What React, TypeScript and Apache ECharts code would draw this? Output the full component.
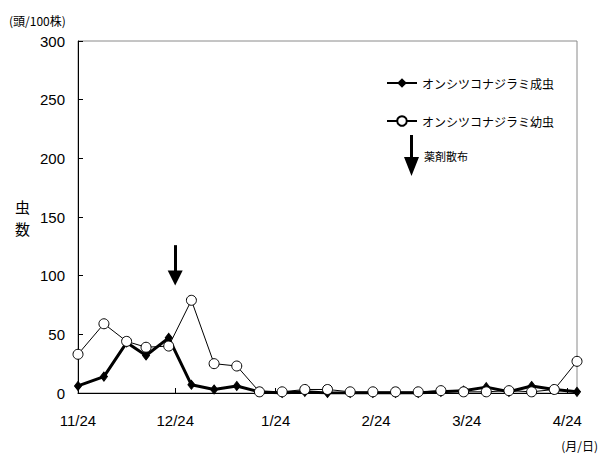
import React, { useEffect, useRef } from "react";
import * as echarts from "echarts";

// Days since 11/24 for each survey
const sampleDays = [0, 8, 15, 21, 28, 35, 42, 49, 56, 63, 70, 77, 84, 91, 98, 105, 112, 119, 126, 133, 140, 147, 154];
// オンシツコナジラミ成虫 (heads / 100 plants)
const adultValues = [6, 14, 43, 32, 47, 7, 3, 6, 1, 0, 1, 0, 0, 0, 0, 0, 1, 2, 5, 1, 6, 3, 1];
// オンシツコナジラミ幼虫 (heads / 100 plants)
const nymphValues = [33, 59, 44, 39, 40, 79, 25, 23, 1, 1, 3, 3, 1, 1, 1, 1, 2, 1, 1, 2, 1, 3, 27];

const xTickDays = [0, 30, 61, 92, 120, 151];
const xTickLabels = ["11/24", "12/24", "1/24", "2/24", "3/24", "4/24"];
const yTicks = [0, 50, 100, 150, 200, 250, 300];

// Spray event (day, arrow top value, arrow end value)
const sprayDay = 30;
const sprayArrowFrom = 126;
const sprayArrowTo = 98;

const adultName = "オンシツコナジラミ成虫";
const nymphName = "オンシツコナジラミ幼虫";
const sprayName = "薬剤散布";

const FONT_NUM = "'Liberation Sans', Arial, sans-serif";
const FONT_JP = "'Noto Sans CJK JP', sans-serif";

export default function App() {
  const ref = useRef<HTMLDivElement>(null);
  useEffect(() => {
    if (!ref.current) return;
    const chart = echarts.init(ref.current, undefined, { renderer: "svg" });
    const labelFor = (v: number) => {
      const i = xTickDays.indexOf(v);
      return i >= 0 ? xTickLabels[i] : "";
    };
    chart.setOption({
      animation: false,
      backgroundColor: "#fff",
      grid: {
        left: 78,
        right: 26,
        top: 41,
        bottom: 66,
        show: true,
        borderColor: "#8a8a8a",
        borderWidth: 1,
      },
      title: [
        {
          text: "(頭/100株)",
          left: 4,
          top: 9,
          textStyle: { fontSize: 12, fontWeight: "normal", color: "#000", fontFamily: FONT_JP },
        },
        {
          text: "(月/日)",
          right: 0,
          top: 434,
          textStyle: { fontSize: 12, fontWeight: "normal", color: "#000", fontFamily: FONT_JP },
        },
      ],
      legend: [
        {
          orient: "vertical",
          left: 381,
          top: 72,
          itemWidth: 30,
          itemHeight: 12,
          itemGap: 26,
          data: [adultName, nymphName],
          selectedMode: false,
          textStyle: { fontSize: 12, color: "#000", fontFamily: FONT_JP },
        },
        {
          orient: "vertical",
          left: 399,
          top: 130,
          itemWidth: 15,
          itemHeight: 41,
          data: [
            {
              name: sprayName,
              icon: "path://M6,0 L9,0 L9,22 L15,22 L7.5,41 L0,22 L6,22 Z",
            },
          ],
          selectedMode: false,
          textStyle: { fontSize: 11, color: "#000", fontFamily: FONT_JP },
        },
      ],
      xAxis: {
        type: "value",
        min: 0,
        max: 154,
        splitLine: { show: false },
        axisLine: { show: true, onZero: false, lineStyle: { color: "#000", width: 1 } },
        axisTick: { show: true, inside: true, length: 5, customValues: xTickDays, lineStyle: { color: "#000" } },
        axisLabel: {
          customValues: xTickDays,
          formatter: (v: number) => labelFor(v),
          fontSize: 15,
          color: "#000",
          fontFamily: FONT_NUM,
          margin: 20,
        },
      },
      yAxis: {
        type: "value",
        min: 0,
        max: 300,
        interval: 50,
        name: "虫\n数",
        nameLocation: "middle",
        nameRotate: 0,
        nameGap: 48,
        nameTextStyle: { fontSize: 15, lineHeight: 22, color: "#000", fontFamily: FONT_JP },
        splitLine: { show: false },
        axisLine: { show: true, lineStyle: { color: "#000", width: 1 } },
        axisTick: { show: true, inside: true, length: 5, lineStyle: { color: "#000" } },
        axisLabel: {
          fontSize: 15,
          color: "#000",
          fontFamily: FONT_NUM,
          margin: 13,
          formatter: (v: number) => (yTicks.includes(v) ? String(v) : ""),
        },
      },
      series: [
        {
          name: adultName,
          type: "line",
          data: sampleDays.map((d, i) => [d, adultValues[i]]),
          symbol: "diamond",
          symbolSize: [7, 9],
          showAllSymbol: true,
          lineStyle: { color: "#000", width: 3 },
          itemStyle: { color: "#000", borderColor: "#000" },
          z: 3,
        },
        {
          name: nymphName,
          type: "line",
          data: sampleDays.map((d, i) => [d, nymphValues[i]]),
          symbol: "circle",
          symbolSize: 10,
          showAllSymbol: true,
          lineStyle: { color: "#000", width: 1 },
          itemStyle: { color: "#fff", borderColor: "#000", borderWidth: 1 },
          z: 4,
        },
        {
          name: sprayName,
          type: "line",
          data: [],
          itemStyle: { color: "#000" },
          lineStyle: { color: "#000" },
          markLine: {
            silent: true,
            symbol: ["none", "triangle"],
            symbolSize: 15,
            label: { show: false },
            itemStyle: { color: "#000" },
            lineStyle: { color: "#000", width: 3, type: "solid" },
            data: [[{ coord: [sprayDay, sprayArrowFrom] }, { coord: [sprayDay, sprayArrowTo] }]],
          },
        },
      ],
    });
    return () => chart.dispose();
  }, []);
  return (
    <div
      ref={ref}
      style={{ position: "fixed", left: 0, top: 0, width: 603, height: 459 }}
    />
  );
}
